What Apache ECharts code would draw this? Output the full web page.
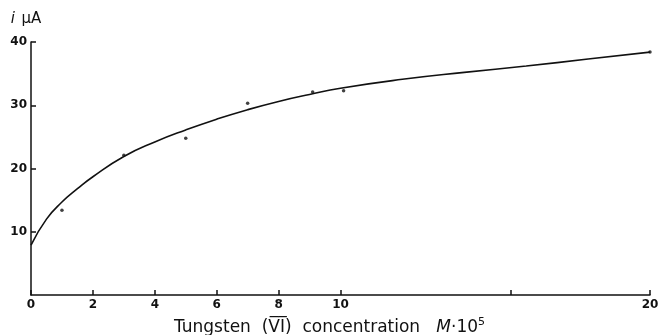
<!DOCTYPE html>
<html>
<head>
<meta charset="utf-8">
<script src="https://cdn.jsdelivr.net/npm/echarts@6/dist/echarts.min.js"></script>
<style>
  html, body { margin: 0; padding: 0; background: #fff; }
  #chart { width: 659px; height: 335px; }
</style>
</head>
<body>
<div id="chart"></div>
<script>
// Fitted calibration curve: current vs. tungsten(VI) concentration
const curveX = [0, 0.5, 1, 1.5, 2, 3, 4, 5, 6, 7, 8, 9, 10, 12, 14, 16, 18, 20];
const curveY = [7.9, 12.0, 14.7, 16.8, 18.7, 21.9, 24.2, 26.1, 27.8, 29.3, 30.6, 31.7, 32.7, 34.1, 35.2, 36.2, 37.3, 38.4];

// Measured points
const pointX = [1, 3, 5, 7, 9.1, 10.1, 20];
const pointY = [13.4, 22.1, 24.8, 30.3, 32.1, 32.3, 38.4];

// Axis ticks and labels
const xTickValues = [0, 2, 4, 6, 8, 10, 15.5, 20];
const xLabelValues = [0, 2, 4, 6, 8, 10, 20];
const yTickValues = [10, 20, 30, 40];

const curveData = curveX.map((x, i) => [x, curveY[i]]);
const pointData = pointX.map((x, i) => [x, pointY[i]]);

const chart = echarts.init(document.getElementById('chart'), null, { renderer: 'canvas' });
const ink = '#111';
const font = 'DejaVu Sans';

chart.setOption({
  backgroundColor: '#fff',
  animation: false,
  grid: { left: 31, right: 9, top: 42, bottom: 40, containLabel: false, outerBoundsMode: 'none' },
  xAxis: {
    type: 'value',
    min: 0,
    max: 20,
    axisLine: { lineStyle: { color: ink, width: 1.5 } },
    axisTick: { inside: true, length: 5, customValues: xTickValues, lineStyle: { color: ink, width: 1.5 } },
    axisLabel: {
      customValues: xLabelValues,
      color: ink, fontFamily: font, fontSize: 12, fontWeight: 'bold', margin: 4
    },
    splitLine: { show: false },
    name: '{a|Tungsten  (V\u0332\u0305I\u0332\u0305)  concentration   }{m|M}{a|\u00b710}{s|5}',
    nameLocation: 'middle',
    nameGap: 22,
    nameTextStyle: {
      padding: [0, 22, 0, 0],
      rich: {
        a: { fontFamily: font, fontSize: 17, color: ink },
        m: { fontFamily: font, fontSize: 17, color: ink, fontStyle: 'italic' },
        s: { fontFamily: font, fontSize: 11, color: ink, verticalAlign: 'top', padding: [0, 0, 10, 0] }
      }
    }
  },
  yAxis: {
    type: 'value',
    min: 0,
    max: 40,
    interval: 10,
    axisLine: { show: true, lineStyle: { color: ink, width: 1.5 } },
    axisTick: { show: true, inside: true, length: 5, customValues: yTickValues, lineStyle: { color: ink, width: 1.5 } },
    axisLabel: {
      customValues: yTickValues,
      color: ink, fontFamily: font, fontSize: 12, fontWeight: 'bold', margin: 4
    },
    splitLine: { show: false },
    name: '{i|i}  {u|\u03bcA}',
    nameLocation: 'end',
    nameGap: 15,
    nameTextStyle: {
      align: 'center',
      padding: [0, 10, 0, 0],
      rich: {
        i: { fontFamily: font, fontSize: 15, color: ink, fontStyle: 'italic' },
        u: { fontFamily: font, fontSize: 15, color: ink }
      }
    }
  },
  series: [
    {
      type: 'line',
      data: curveData,
      smooth: 0.5,
      showSymbol: false,
      clip: false,
      lineStyle: { color: ink, width: 1.6 }
    },
    {
      type: 'scatter',
      data: pointData,
      symbol: 'circle',
      symbolSize: 3.5,
      clip: false,
      itemStyle: { color: ink }
    }
  ]
});
</script>
</body>
</html>
